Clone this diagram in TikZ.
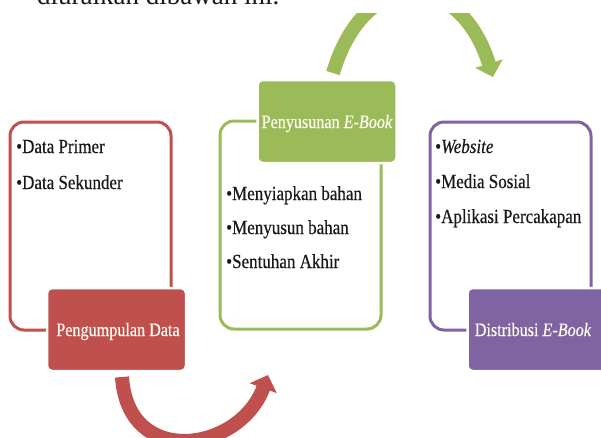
\documentclass[tikz,border=0pt]{standalone}
\usepackage{fontspec}
\setmainfont{Liberation Serif}[FakeStretch=0.85,FakeBold=0.4]
\newfontfamily\topfont{Liberation Serif}
\usetikzlibrary{arrows.meta}
\definecolor{ored}{HTML}{C0504D}
\definecolor{ogreen}{HTML}{9BBB59}
\definecolor{opurple}{HTML}{8064A2}
\definecolor{cream}{HTML}{FFFCF2}
\begin{document}
\begin{tikzpicture}[x=1pt,y=-1pt,
  outlinebox/.style={draw=#1, line width=3pt, rounded corners=14pt, minimum width=161pt, minimum height=208pt, inner sep=0pt},
  titlebox/.style={fill=#1, draw=white, line width=2.5pt, rounded corners=5pt, minimum width=139pt, minimum height=83pt, inner sep=0pt},
  titletext/.style={text=cream, font=\fontsize{19}{23}\selectfont, anchor=base, inner sep=0pt},
  itemtext/.style={font=\fontsize{20}{24}\selectfont, anchor=base west, inner sep=0pt, text=black!90},
  flowarrow/.style={draw=#1, line width=14pt, -{Triangle[width=28pt,length=14pt]}}]
\useasboundingbox (0,0) rectangle (601,437);
\fill[white] (0,0) rectangle (601,437);

% intro line (cut off at the top, as in the source)
\node[font=\topfont\fontsize{27}{30}\selectfont, anchor=base west, inner sep=0pt, text=black!90] (intro) at (37,4) {diuraikan dibawah ini.};

% curved arrows
\begin{scope}
\clip (0,13.5) rectangle (601,437);
\coordinate (rs) at (122,377);
\coordinate (re) at (268,375);
\coordinate (gs) at (333,73);
\coordinate (ge) at (493,77);
\draw[flowarrow=ored] (rs) .. controls (128,469) and (240,452) .. (re);
\draw[flowarrow=ogreen] (gs) .. controls (365,-35) and (460,-30) .. (ge);
\end{scope}

% outline frames
\node[outlinebox=ored] (redframe) at (90.5,226) {};
\node[outlinebox=ogreen] (greenframe) at (300.5,225) {};
\node[outlinebox=opurple] (purpleframe) at (510.5,226) {};

% title boxes
\node[titlebox=ored] (redbox) at (116.5,329.5) {};
\node[titlebox=ogreen] (greenbox) at (327,121.5) {};
\node[titlebox=opurple] (purplebox) at (537,329.5) {};

\node[titletext] (redtitle) at (118,336) {Pengumpulan Data};
\node[titletext] (greentitle) at (327,128) {Penyusunan \textit{E-Book}};
\node[titletext] (purpletitle) at (533,336) {Distribusi \textit{E-Book}};

% items
\node[itemtext] (r1) at (16,153) {•Data Primer};
\node[itemtext] (r2) at (16,189) {•Data Sekunder};

\node[itemtext] (g1) at (226,200) {•Menyiapkan bahan};
\node[itemtext] (g2) at (226,234) {•Menyusun bahan};
\node[itemtext] (g3) at (226,268) {•Sentuhan Akhir};

\node[itemtext] (p1) at (435,153) {•\textit{Website}};
\node[itemtext] (p2) at (435,188) {•Media Sosial};
\node[itemtext] (p3) at (435,223) {•Aplikasi Percakapan};
\end{tikzpicture}
\end{document}
